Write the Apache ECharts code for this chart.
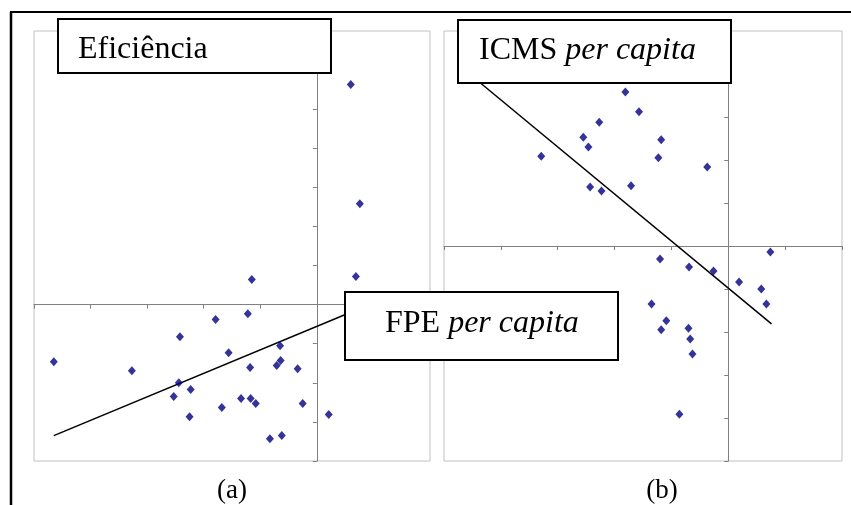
<!DOCTYPE html>
<html>
<head>
<meta charset="utf-8">
<script src="https://cdn.jsdelivr.net/npm/echarts@6/dist/echarts.min.js"></script>
<style>
html,body{margin:0;padding:0;background:#fff;}
#c{width:851px;height:505px;}
</style>
</head>
<body>
<div id="c"></div>
<script>
// Panel (a): FPE per capita (x) vs Eficiência (y)
const fpeX = [0.60,0.76,-1.15,0.69,-1.22,-1.79,-2.42,-1.56,-0.65,-4.65,-3.27,-1.18,-0.71,-0.64,-0.34,-2.44,-2.23,-2.53,-1.34,-1.17,-1.08,-1.68,-0.25,-2.25,0.21,-0.83,-0.62];
const effA = [5.63,2.58,0.64,0.72,-0.23,-0.38,-0.82,-1.23,-1.05,-1.46,-1.69,-1.61,-1.56,-1.43,-1.64,-2.00,-2.17,-2.35,-2.40,-2.40,-2.53,-2.63,-2.53,-2.87,-2.81,-3.43,-3.35];
const trendAX = [-4.65, 0.76];
const trendAY = [-3.35, -0.10];

// Panel (b): ICMS per capita (x) vs Eficiência (y)
const icmsX = [-1.81,-1.57,-2.27,-2.55,-2.46,-1.18,-3.29,-1.23,-0.37,-2.43,-2.23,-1.71,0.74,-1.20,-0.69,-0.26,0.19,0.58,0.67,-1.35,-1.09,-1.18,-0.70,-0.67,-0.63,-0.86];
const effB = [3.58,3.12,2.88,2.53,2.30,2.47,2.09,2.05,1.84,1.37,1.28,1.40,-0.14,-0.30,-0.49,-0.58,-0.84,-1.00,-1.35,-1.35,-1.74,-1.95,-1.91,-2.16,-2.51,-3.91];
const trendBX = [-4.55, 0.76];
const trendBY = [4.00, -1.81];

// Axis ranges (no tick labels shown)
const axisA = {xMin:-5, xMax:2, yMin:-4, yMax:7};
const axisB = {xMin:-5, xMax:2, yMin:-5, yMax:5};

const labels = {
  boxA: '{n|Eficiência}',
  boxB: '{n|ICMS }{i|per capita}',
  boxC: '{n|FPE }{i|per capita}',
  capA: '(a)',
  capB: '(b)'
};

const zip = (xs, ys) => xs.map((x, i) => [x, ys[i]]);

const serif = '"Liberation Serif", "Times New Roman", serif';
const axisColor = '#808080';

function mkX(idx, r) {
  return {
    type: 'value', gridIndex: idx, min: r.xMin, max: r.xMax, interval: 1,
    axisLine: {show: true, onZero: true, lineStyle: {color: axisColor, width: 1}},
    axisTick: {show: true, length: 4, lineStyle: {color: axisColor}},
    axisLabel: {show: false}, splitLine: {show: false}
  };
}
function mkY(idx, r) {
  return {
    type: 'value', gridIndex: idx, min: r.yMin, max: r.yMax, interval: 1,
    axisLine: {show: true, onZero: true, lineStyle: {color: axisColor, width: 1}},
    axisTick: {show: true, length: 4, lineStyle: {color: axisColor}},
    axisLabel: {show: false}, splitLine: {show: false}
  };
}

const rich = {
  n: {fontFamily: serif, fontSize: 32, fontStyle: 'normal', fill: '#000', color: '#000'},
  i: {fontFamily: serif, fontSize: 32, fontStyle: 'italic', fill: '#000', color: '#000'}
};

function box(x, y, w, h, tx, ty, txt) {
  return [
    {type: 'rect', z: 100, shape: {x: x, y: y, width: w, height: h},
     style: {fill: '#fff', stroke: '#000', lineWidth: 2}},
    {type: 'text', z: 101, x: tx, y: ty,
     style: {text: txt, rich: rich, font: '32px ' + serif, fill: '#000', verticalAlign: 'middle', align: 'left'}}
  ];
}

const chart = echarts.init(document.getElementById('c'), null, {renderer: 'canvas'});
chart.setOption({
  backgroundColor: '#fff',
  animation: false,
  grid: [
    {left: 34, top: 31, width: 396, height: 430, show: true, borderColor: '#c0c0c0', borderWidth: 1, backgroundColor: 'transparent', outerBoundsMode: 'none', containLabel: false},
    {left: 444, top: 31, width: 398, height: 430, show: true, borderColor: '#c0c0c0', borderWidth: 1, backgroundColor: 'transparent', outerBoundsMode: 'none', containLabel: false}
  ],
  xAxis: [mkX(0, axisA), mkX(1, axisB)],
  yAxis: [mkY(0, axisA), mkY(1, axisB)],
  series: [
    {type: 'scatter', xAxisIndex: 0, yAxisIndex: 0, data: zip(fpeX, effA), symbol: 'diamond', symbolSize: [8, 9], itemStyle: {color: '#000080'}, z: 3},
    {type: 'line', xAxisIndex: 0, yAxisIndex: 0, data: zip(trendAX, trendAY), showSymbol: false, symbol: 'none', lineStyle: {color: '#000', width: 1.5}, z: 2},
    {type: 'scatter', xAxisIndex: 1, yAxisIndex: 1, data: zip(icmsX, effB), symbol: 'diamond', symbolSize: [8, 9], itemStyle: {color: '#000080'}, z: 3},
    {type: 'line', xAxisIndex: 1, yAxisIndex: 1, data: zip(trendBX, trendBY), showSymbol: false, symbol: 'none', lineStyle: {color: '#000', width: 1.5}, z: 2}
  ],
  graphic: [
    {type: 'line', z: 100, shape: {x1: 11, y1: 12, x2: 11, y2: 505}, style: {stroke: '#000', lineWidth: 2.5}},
    {type: 'line', z: 100, shape: {x1: 10, y1: 12, x2: 851, y2: 12}, style: {stroke: '#000', lineWidth: 2}},
    ...box(58, 19, 273, 54, 78, 49.5, labels.boxA),
    ...box(458, 20, 273, 63, 479, 50.5, labels.boxB),
    ...box(345, 292, 273, 68, 385, 323.5, labels.boxC),
    {type: 'text', z: 101, x: 232, y: 491, style: {text: labels.capA, font: '27px ' + serif, fill: '#000', align: 'center', verticalAlign: 'middle'}},
    {type: 'text', z: 101, x: 662, y: 491, style: {text: labels.capB, font: '27px ' + serif, fill: '#000', align: 'center', verticalAlign: 'middle'}}
  ]
});
</script>
</body>
</html>
